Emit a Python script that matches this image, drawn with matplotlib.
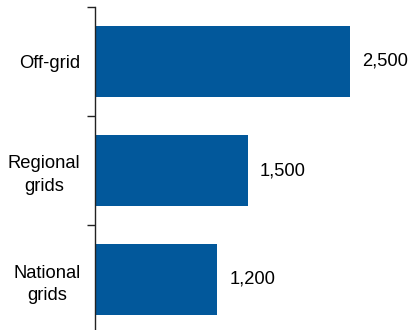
import matplotlib.pyplot as plt
import numpy as np

categories = ['Off-grid', 'Regional\ngrids', 'National\ngrids']
values = [2500, 1500, 1200]
value_labels = ['2,500', '1,500', '1,200']

plt.rcParams['font.family'] = ['Liberation Sans', 'DejaVu Sans']

fig = plt.figure(figsize=(4.1, 3.3), dpi=100)
ax = fig.add_axes([95/410, -4/330, 315/410, 327/330])

pos = np.arange(len(categories))
ax.barh(pos, values, height=0.66, color='#02589b')

for p, v, lab in zip(pos, values, value_labels):
    ax.text(v + 115, p, lab, va='center', ha='left', fontsize=13.2)

ax.set_ylim(2.5, -0.5)
ax.set_xlim(0, 2500 * 315 / 255)

ax.set_yticks([-0.5, 0.5, 1.5, 2.5])
ax.set_yticklabels([])
ax.set_yticks(pos, minor=True)
ax.set_yticklabels(categories, minor=True, fontsize=13.2)
ax.tick_params(axis='y', which='major', length=6, width=1, color='#222222')
ax.tick_params(axis='y', which='minor', length=0, pad=10.5)
for t in ax.get_yticklabels(minor=True):
    t.set_multialignment('center')
    t.set_linespacing(1.45)

ax.set_xticks([])
for s in ['top', 'right', 'bottom']:
    ax.spines[s].set_visible(False)
ax.spines['left'].set_color('#222222')
ax.spines['left'].set_linewidth(1)

fig.savefig('out.png', dpi=100)
